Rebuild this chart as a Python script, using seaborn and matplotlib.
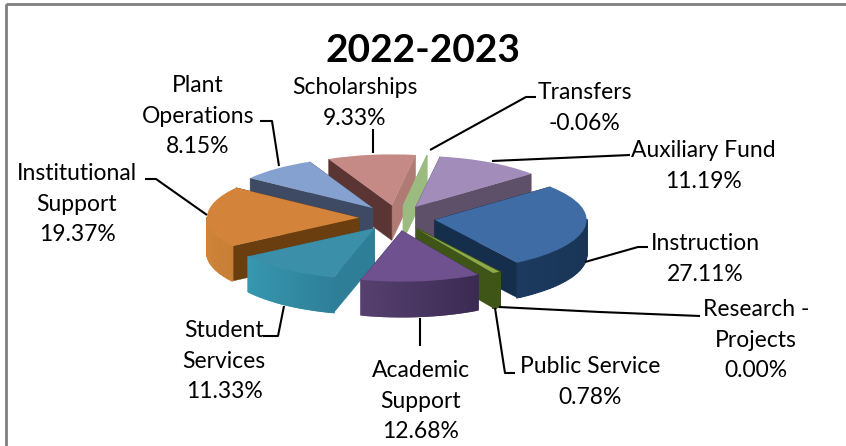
import numpy as np
import matplotlib
matplotlib.use("Agg")
import matplotlib.pyplot as plt
from matplotlib.patches import Rectangle
from matplotlib.transforms import Affine2D
import seaborn as sns

# datos
categories = ["Instruction", "Research -\nProjects", "Public Service", "Academic\nSupport",
              "Student\nServices", "Institutional\nSupport", "Plant\nOperations",
              "Scholarships", "Transfers", "Auxiliary Fund"]
percents = [27.11, 0.00, 0.78, 12.68, 11.33, 19.37, 8.15, 9.33, -0.06, 11.19]

# colores: cara superior, caras de corte (angulo menor, angulo mayor), borde exterior (izq, der)
top_colors = ["#3F6CA5", "#4F6B2A", "#8FAA4A", "#6F5190", "#3B8FA9", "#D4843A",
              "#84A1CF", "#C58A85", "#9BBB80", "#A28CBA"]
cut_lo = ["#142E4C", "#3F5518", "#3F5518", "#3B2A52", "#2F7F99", "#6B3E10",
          "#3E4A63", "#B07A75", "#9BBB80", "#5E5068"]
cut_hi = ["#142E4C", "#3F5518", "#3F5518", "#3B2A52", "#2D7E96", "#6B3E10",
          "#3E4A63", "#5A3533", "#9BBB80", "#5E5068"]
rim_left = ["#1B3A5E", "#3F5518", "#3F5518", "#56406F", "#3798B0", "#D98E3E",
            "#3E4A63", "#5A3533", "#9BBB80", "#5E5068"]
rim_right = ["#172E4C", "#3F5518", "#3F5518", "#3B2A52", "#2F7F99", "#C87F36",
             "#3E4A63", "#5A3533", "#9BBB80", "#5E5068"]

# posicion de los textos (centro x, centro y de la primera linea) en pixeles
label_x = [705, 756, 590, 421, 224, 77, 198, 355, 585, 703]
label_y = [242, 308, 365, 369, 329, 172, 84, 86, 91, 149]

# lineas guia
leaders = [
    [(648, 247), (638, 247), (585, 262)],
    [(700, 316), (600, 312), (499, 307)],
    [(515, 373), (505, 373), (495, 308)],
    [(420, 318), (420, 346)],
    [(263, 336), (278, 336), (284, 306)],
    [(145, 179), (156, 179), (207, 215)],
    [(260, 121), (272, 121), (279, 166)],
    [(373, 129), (373, 153)],
    [(536, 97), (526, 97), (430, 150)],
    [(630, 155), (492, 161)],
]

cx, cy = 397, 218
rx, ry = 152, 51
depth = 35

sns.set_theme(style="white")
plt.rcParams["font.family"] = ["Lato", "DejaVu Sans"]

fig = plt.figure(figsize=(8.46, 4.46), dpi=100)
ax = fig.add_axes([0, 0, 1, 1])

wedges, _ = ax.pie(np.abs(percents), startangle=40.5, counterclock=False,
                   explode=[0.25] * len(percents), colors=top_colors,
                   wedgeprops=dict(linewidth=0))
ax.set_aspect("auto")
ax.set_xlim(0, 846)
ax.set_ylim(446, 0)
ax.axis("off")

squash = Affine2D().scale(rx, -ry).translate(cx, cy) + ax.transData


def to_px(x, y):
    return cx + rx * x, cy - ry * y


# de atras hacia adelante
centers_y = [w.center[1] for w in wedges]
order = np.argsort(centers_y)[::-1]

for rank, i in enumerate(order):
    w = wedges[i]
    z = 10 + rank * 5
    ax0, ay0 = to_px(*w.center)

    for theta, col in [(w.theta1, cut_lo[i]), (w.theta2, cut_hi[i])]:
        ox, oy = to_px(w.center[0] + np.cos(np.radians(theta)),
                       w.center[1] + np.sin(np.radians(theta)))
        ax.fill([ax0, ox, ox, ax0], [ay0, oy, oy + depth, ay0 + depth],
                color=col, lw=0.3, zorder=z)

    angles = np.linspace(w.theta1, w.theta2, 60)
    shades = sns.blend_palette([rim_left[i], rim_right[i]], 60)
    for k in range(59):
        if np.sin(np.radians(angles[k])) < 0.0 or np.sin(np.radians(angles[k + 1])) < 0.0:
            x0, y0 = to_px(w.center[0] + np.cos(np.radians(angles[k])),
                           w.center[1] + np.sin(np.radians(angles[k])))
            x1, y1 = to_px(w.center[0] + np.cos(np.radians(angles[k + 1])),
                           w.center[1] + np.sin(np.radians(angles[k + 1])))
            ax.fill([x0, x1, x1, x0], [y0, y1, y1 + depth, y0 + depth],
                    color=shades[k], lw=1.2, zorder=z + 1)

    w.set_transform(squash)
    w.set_zorder(z + 2)
    w.set_clip_on(False)

for pts in leaders:
    ax.plot([p[0] for p in pts], [p[1] for p in pts], color="black", lw=1.5,
            zorder=200, solid_capstyle="butt")

for name, pct, x, y in zip(categories, percents, label_x, label_y):
    ax.text(x, y - 9, name + "\n%.2f%%" % pct, ha="center", va="top",
            fontsize=16.5, linespacing=1.56, color="black", zorder=210)

ax.text(423, 51, "2022-2023", ha="center", va="center", fontsize=28, fontweight="bold",
        color="black", zorder=210)

# marco gris: arriba e izquierda, se sale por la derecha y por abajo
ax.add_patch(Rectangle((6, 4), 860, 460, fill=False, edgecolor="#7F7F7F", lw=2, zorder=300))

fig.savefig("out.png", dpi=100)
